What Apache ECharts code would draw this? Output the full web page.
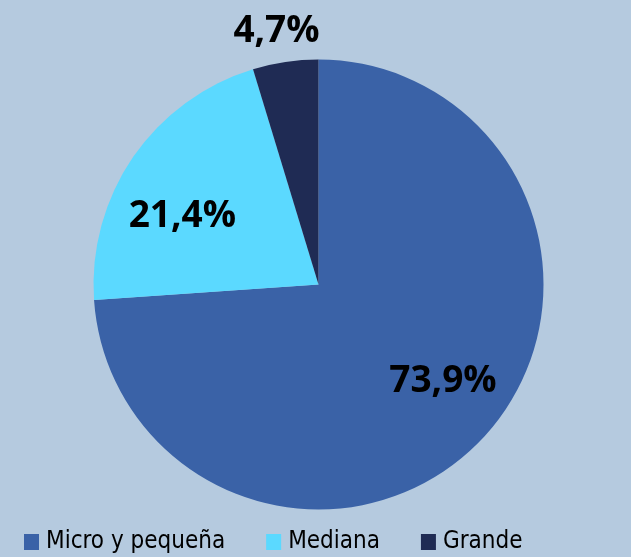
<!DOCTYPE html>
<html>
<head>
<meta charset="utf-8">
<script src="https://cdn.jsdelivr.net/npm/echarts@6/dist/echarts.min.js"></script>
<style>
html,body{margin:0;padding:0;background:#b5cadf;}
#c{width:631px;height:557px;}
</style>
</head>
<body>
<div id="c"></div>
<script>
const categories = ["Micro y pequeña", "Mediana", "Grande"];
const values = [73.9, 21.4, 4.7];
const labels = ["73,9%", "21,4%", "4,7%"];
const colors = ["#3a62a7", "#5bd9ff", "#1f2b54"];
const labelOffsets = [[40, 18], [-41, -3], [-25, -139]];

const chart = echarts.init(document.getElementById('c'));
chart.setOption({
  backgroundColor: '#b5cadf',
  animation: false,
  legend: {
    top: 525,
    left: 19,
    itemWidth: 15,
    itemHeight: 16,
    itemGap: 41,
    icon: 'rect',
    textStyle: {fontSize: 24, color: '#000', padding: [0, 0, 0, 2], fontFamily: '"Liberation Sans Narrow", "DejaVu Sans Condensed", sans-serif'},
    data: categories
  },
  series: [{
    type: 'pie',
    center: [318.5, 284.5],
    radius: [0, 225],
    startAngle: 90,
    clockwise: true,
    avoidLabelOverlap: false,
    labelLine: {show: false},
    data: categories.map((c, i) => ({
      name: c,
      value: values[i],
      itemStyle: {color: colors[i]},
      label: {
        show: true,
        position: 'inside',
        formatter: labels[i],
        offset: labelOffsets[i],
        color: '#000',
        fontWeight: 'bold',
        fontSize: 37,
        fontFamily: '"Open Sans", "Noto Sans", sans-serif'
      }
    }))
  }]
});
</script>
</body>
</html>
